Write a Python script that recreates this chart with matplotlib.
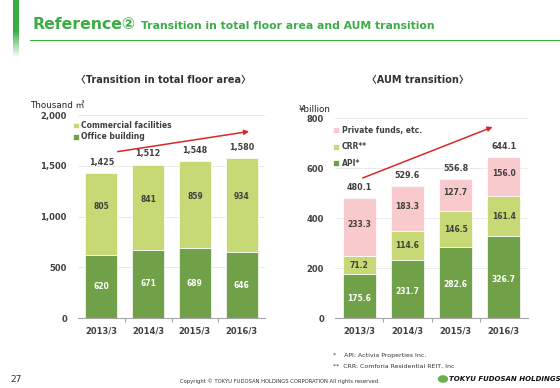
import matplotlib
matplotlib.use("Agg")
import matplotlib.pyplot as plt
import numpy as np
from matplotlib.lines import Line2D

plt.rcParams['font.family'] = ['DejaVu Sans', 'Noto Sans CJK JP']

years = ["2013/3", "2014/3", "2015/3", "2016/3"]
office = [620, 671, 689, 646]
commercial = [805, 841, 859, 934]
floor_total = ["1,425", "1,512", "1,548", "1,580"]
floor_ticks = [0, 500, 1000, 1500, 2000]
floor_ticklabels = ["0", "500", "1,000", "1,500", "2,000"]

api = [175.6, 231.7, 282.6, 326.7]
crr = [71.2, 114.6, 146.5, 161.4]
private = [233.3, 183.3, 127.7, 156.0]
aum_total = [480.1, 529.6, 556.8, 644.1]
aum_ticks = [0, 200, 400, 600, 800]

DG = "#70a047"
LG = "#c6d974"
PK = "#f9cacd"
TXT = "#404040"
GREEN = "#3aad45"

W, H = 560, 388
fig = plt.figure(figsize=(W/100, H/100), dpi=100)

def fx(px): return px / W
def fy(py): return 1 - py / H

# header: vertical bar with fade
vals = np.concatenate([np.zeros(30), np.linspace(0, 1, 28)]).reshape(-1, 1)
axg = fig.add_axes([fx(13), fy(58), fx(6), fy(0) - fy(58)])
axg.imshow(vals, aspect='auto', interpolation='bilinear',
           cmap=matplotlib.colors.LinearSegmentedColormap.from_list('g', [GREEN, 'white']))
axg.axis('off')
fig.add_artist(Line2D([fx(30), fx(560)], [fy(40), fy(40)], transform=fig.transFigure, color=GREEN, lw=0.8))
fig.text(fx(33), fy(29), "Reference②", fontsize=11.3, fontweight='bold', color=GREEN, va='baseline')
fig.text(fx(141), fy(29), "Transition in total floor area and AUM transition", fontsize=7.8,
         fontweight='bold', color=GREEN, va='baseline')

fig.text(fx(163), fy(80), "〈Transition in total floor area〉", fontsize=7, fontweight='bold',
         color='#333333', ha='center', va='center')
fig.text(fx(418), fy(80), "〈AUM transition〉", fontsize=7, fontweight='bold',
         color='#333333', ha='center', va='center')

def style_axes(ax):
    for s in ['top', 'right', 'left']:
        ax.spines[s].set_visible(False)
    ax.spines['bottom'].set_color('#a6a6a6')
    ax.spines['bottom'].set_linewidth(0.8)
    ax.yaxis.grid(True, color='#e6e6e6', lw=0.6)
    ax.set_axisbelow(True)
    ax.tick_params(axis='y', length=0, labelsize=6, labelcolor=TXT, pad=8)
    ax.tick_params(axis='x', length=0, labelsize=6, labelcolor=TXT, pad=6)
    for lab in ax.get_xticklabels() + ax.get_yticklabels():
        lab.set_fontweight('bold')
    ax.set_xticks([0.5, 1.5, 2.5], minor=True)
    ax.tick_params(axis='x', which='minor', length=3, color='#a6a6a6', width=0.8)

x = np.arange(len(years))
bw = 0.68

# left chart
ax1 = fig.add_axes([fx(78), fy(318), fx(265) - fx(78), fy(115) - fy(318)])
ax1.bar(x, office, bw, color=DG, edgecolor='white', lw=0.5, label="Office building")
ax1.bar(x, commercial, bw, bottom=office, color=LG, edgecolor='white', lw=0.5, label="Commercial facilities")
ax1.set_xlim(-0.5, 3.5)
ax1.set_ylim(0, 2000)
ax1.set_yticks(floor_ticks)
ax1.set_yticklabels(floor_ticklabels)
ax1.set_xticks(x)
ax1.set_xticklabels(years)
style_axes(ax1)
for i in range(4):
    ax1.text(x[i], office[i] / 2, str(office[i]), ha='center', va='center', fontsize=5.5,
             fontweight='bold', color='white')
    ax1.text(x[i], office[i] + commercial[i] / 2 + 80, str(commercial[i]), ha='center', va='center',
             fontsize=5.5, fontweight='bold', color=TXT)
    ax1.text(x[i], office[i] + commercial[i] + 60, floor_total[i], ha='center', va='bottom',
             fontsize=5.8, fontweight='bold', color=TXT)
ax1.annotate("", xy=(3.22, 1842), xytext=(0.29, 1635),
             arrowprops=dict(arrowstyle='-|>', color='#d42a2a', lw=1.1, mutation_scale=7))
h, l = ax1.get_legend_handles_labels()
leg1 = ax1.legend(h[::-1], l[::-1], loc='upper left', bbox_to_anchor=(-0.045, 0.985), frameon=False,
                  fontsize=5.5, handlelength=0.8, handleheight=0.8, handletextpad=0.35,
                  labelspacing=0.3, borderaxespad=0)
for t in leg1.get_texts():
    t.set_fontweight('bold'); t.set_color(TXT)
fig.text(fx(30), fy(105), "Thousand ㎡", fontsize=6.3, color='#222222', va='center')

# right chart
ax2 = fig.add_axes([fx(335), fy(318), fx(528) - fx(335), fy(118) - fy(318)])
ax2.bar(x, api, bw, color=DG, edgecolor='white', lw=0.5, label="API*")
b2 = np.array(api)
ax2.bar(x, crr, bw, bottom=b2, color=LG, edgecolor='white', lw=0.5, label="CRR**")
b3 = b2 + np.array(crr)
ax2.bar(x, private, bw, bottom=b3, color=PK, edgecolor='white', lw=0.5, label="Private funds, etc.")
ax2.set_xlim(-0.5, 3.5)
ax2.set_ylim(0, 800)
ax2.set_yticks(aum_ticks)
ax2.set_yticklabels([str(v) for v in aum_ticks])
ax2.set_xticks(x)
ax2.set_xticklabels(years)
style_axes(ax2)
for i in range(4):
    ax2.text(x[i], api[i] / 2 - 8, f"{api[i]:.1f}", ha='center', va='center', fontsize=5.5,
             fontweight='bold', color='white')
    ax2.text(x[i], b2[i] + crr[i] / 2, f"{crr[i]:.1f}", ha='center', va='center', fontsize=5.5,
             fontweight='bold', color=TXT)
    ax2.text(x[i], b3[i] + private[i] / 2 + 10, f"{private[i]:.1f}", ha='center', va='center',
             fontsize=5.5, fontweight='bold', color=TXT)
    ax2.text(x[i], aum_total[i] + 24, f"{aum_total[i]:.1f}", ha='center', va='bottom',
             fontsize=5.8, fontweight='bold', color=TXT)
ax2.annotate("", xy=(2.82, 768), xytext=(0.02, 556),
             arrowprops=dict(arrowstyle='-|>', color='#d42a2a', lw=1.1, mutation_scale=7))
h, l = ax2.get_legend_handles_labels()
leg2 = ax2.legend(h[::-1], l[::-1], loc='upper left', bbox_to_anchor=(-0.025, 0.975), frameon=False,
                  fontsize=5.5, handlelength=0.8, handleheight=0.8, handletextpad=0.35,
                  labelspacing=0.95, borderaxespad=0)
for t in leg2.get_texts():
    t.set_fontweight('bold'); t.set_color(TXT)
fig.text(fx(299), fy(110), "¥billion", fontsize=6.3, color='#222222', va='center',
         family=['DejaVu Sans'])

# footer
fig.text(fx(333), fy(356), "*    API: Activia Properties Inc.", fontsize=4.5, color='#333333', va='center')
fig.text(fx(333), fy(366), "**  CRR: Comforia Residential REIT, Inc", fontsize=4.5, color='#333333', va='center')
fig.text(fx(10), fy(379), "27", fontsize=6.5, color='#333333', va='center')
fig.text(fx(280), fy(381), "Copyright © TOKYU FUDOSAN HOLDINGS CORPORATION All rights reserved.",
         fontsize=3.8, color='#333333', ha='center', va='center')
fig.patches.append(matplotlib.patches.Circle((fx(443), fy(379)), 0.008, transform=fig.transFigure,
                                             color='#6ab04c'))
fig.text(fx(449), fy(379), "TOKYU FUDOSAN HOLDINGS", fontsize=5.0, fontweight='bold', style='italic',
         color='#111111', va='center')

fig.savefig("out.png", dpi=100)
